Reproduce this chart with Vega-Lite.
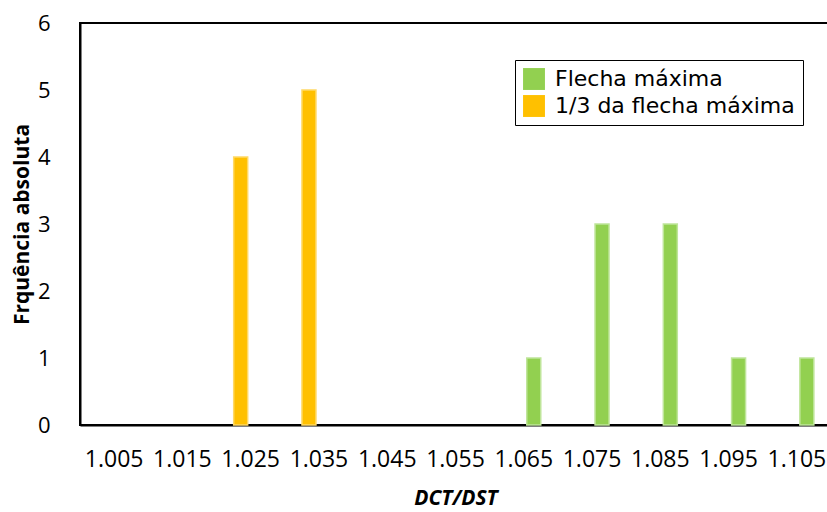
{
  "$schema": "https://vega.github.io/schema/vega-lite/v6.json",
  "autosize": "none",
  "padding": {"left": 80, "top": 23, "right": 0, "bottom": 87},
  "width": 751,
  "height": 402,
  "background": "white",
  "config": {
    "view": {"stroke": "#000000", "strokeWidth": 2},
    "font": "Open Sans"
  },
  "data": {
    "values": [
      {"dct": "1.025", "serie": "1/3 da flecha máxima", "freq": 4},
      {"dct": "1.035", "serie": "1/3 da flecha máxima", "freq": 5},
      {"dct": "1.065", "serie": "Flecha máxima", "freq": 1},
      {"dct": "1.075", "serie": "Flecha máxima", "freq": 3},
      {"dct": "1.085", "serie": "Flecha máxima", "freq": 3},
      {"dct": "1.095", "serie": "Flecha máxima", "freq": 1},
      {"dct": "1.105", "serie": "Flecha máxima", "freq": 1}
    ]
  },
  "mark": {"type": "bar", "strokeWidth": 1.5},
  "encoding": {
    "x": {
      "field": "dct", "type": "ordinal",
      "scale": {"domain": ["1.005","1.015","1.025","1.035","1.045","1.055","1.065","1.075","1.085","1.095","1.105"], "paddingInner": 0, "paddingOuter": 0},
      "axis": {
        "title": "DCT/DST", "titleFont": "Open Sans", "titleFontSize": 21, "titleFontWeight": "bold", "titleFontStyle": "italic",
        "titleY": 73, "titleBaseline": "middle", "titleColor": "#000000",
        "labelAngle": 0, "labelFontSize": 23, "labelColor": "#000000", "labelPadding": 23, "labelFont": "Open Sans",
        "ticks": false, "domainColor": "#000000", "domainWidth": 2, "grid": false
      }
    },
    "xOffset": {
      "field": "serie", "type": "nominal",
      "scale": {"domain": ["1/3 da flecha máxima", "Flecha máxima"], "paddingInner": 0.3, "paddingOuter": 0.8575}
    },
    "y": {
      "field": "freq", "type": "quantitative",
      "scale": {"domain": [0, 6], "nice": false},
      "axis": {
        "title": "Frquência absoluta", "titleFont": "Open Sans", "titleFontSize": 21, "titleFontWeight": "bold",
        "titleX": -58, "titleY": 201, "titleAngle": -90, "titleAlign": "center", "titleBaseline": "middle", "titleColor": "#000000",
        "values": [0,1,2,3,4,5,6], "labelFontSize": 22, "labelColor": "#000000", "labelPadding": 30, "labelFont": "Open Sans",
        "ticks": false, "domainColor": "#000000", "domainWidth": 2, "grid": false, "format": "d"
      }
    },
    "color": {
      "field": "serie", "type": "nominal",
      "scale": {"domain": ["Flecha máxima", "1/3 da flecha máxima"], "range": ["#92D050", "#FFC000"]},
      "legend": {
        "title": null, "orient": "none", "legendX": 435, "legendY": 37,
        "symbolType": "square", "symbolSize": 480, "symbolStrokeWidth": 0, "symbolOpacity": 1,
        "labelFont": "DejaVu Sans", "labelFontSize": 22, "labelColor": "#000000", "labelLimit": 400,
        "strokeColor": "#000000", "fillColor": "#FFFFFF", "padding": 8, "rowPadding": 5, "labelOffset": 10
      }
    },
    "stroke": {
      "field": "serie", "type": "nominal",
      "scale": {"domain": ["Flecha máxima", "1/3 da flecha máxima"], "range": ["#BFE59A", "#FFD966"]},
      "legend": null
    }
  }
}
